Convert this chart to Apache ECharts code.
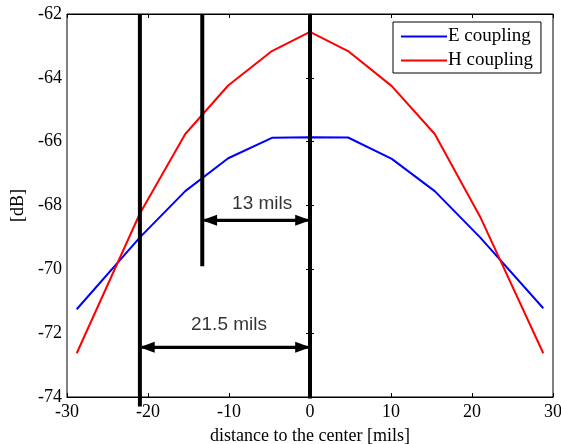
<!DOCTYPE html>
<html>
<head>
<meta charset="utf-8">
<script src="https://cdn.jsdelivr.net/npm/echarts@6/dist/echarts.min.js"></script>
<style>html,body{margin:0;padding:0;background:#fff;}#c{width:561px;height:444px;}</style>
</head>
<body>
<div id="c"></div>
<script>
var xs = [-28.8, -21, -15.4, -10.1, -4.7, 0, 4.7, 10.1, 15.4, 21, 28.8];
var eCoupling = [-71.25, -69.0, -67.55, -66.52, -65.88, -65.86, -65.87, -66.54, -67.55, -69.0, -71.22];
var hCoupling = [-72.63, -68.25, -65.76, -64.24, -63.16, -62.56, -63.16, -64.26, -65.76, -68.35, -72.63];
var xTicks = [-30, -20, -10, 0, 10, 20, 30];
var yTicks = [-74, -72, -70, -68, -66, -64, -62];
var markerXs = [-21, -13.3, 0];
var markerEnds = [-74.3, -69.9, -74.05];
var arrow13 = { from: -13.3, to: 0, y: -68.46, label: '13 mils', labelX: -5.9, labelY: -67.95 };
var arrow215 = { from: -21, to: 0, y: -72.44, label: '21.5 mils', labelX: -10.0, labelY: -71.73 };

var serif = '"Liberation Serif","Times New Roman",serif';
var sans = '"Liberation Sans",Arial,sans-serif';

function zip(a, b) { return a.map(function (v, i) { return [v, b[i]]; }); }

var series = [
  { name: 'E coupling', type: 'line', data: zip(xs, eCoupling), symbol: 'none', lineStyle: { color: '#0000ff', width: 2 }, itemStyle: { color: '#0000ff' }, z: 3 },
  { name: 'H coupling', type: 'line', data: zip(xs, hCoupling), symbol: 'none', lineStyle: { color: '#ff0000', width: 2 }, itemStyle: { color: '#ff0000' }, z: 3 }
];
markerXs.forEach(function (mx, i) {
  series.push({ type: 'line', data: [[mx, -62], [mx, markerEnds[i]]], symbol: 'none', lineStyle: { color: '#000', width: 4 }, z: 4, clip: false, silent: true });
});
[arrow13, arrow215].forEach(function (a) {
  series.push({
    type: 'line', data: [[a.from + 0.25, a.y], [a.to - 0.25, a.y]], symbol: 'none', lineStyle: { color: '#000', width: 3 }, z: 5, silent: true,
    markLine: {
      silent: true, animation: false,
      symbol: ['triangle', 'triangle'], symbolSize: [11, 15],
      lineStyle: { color: '#000', width: 3, type: 'solid' },
      label: { show: false },
      data: [[{ coord: [a.from + 0.9, a.y] }, { coord: [a.to - 0.9, a.y] }]]
    }
  });
  series.push({
    type: 'scatter', data: [[a.labelX, a.labelY]], symbolSize: 0, silent: true, z: 6,
    label: { show: true, position: 'inside', formatter: a.label, color: '#000', fontFamily: sans, fontSize: 19 }
  });
});

var chart = echarts.init(document.getElementById('c'));
chart.setOption({
  animation: false,
  backgroundColor: '#fff',
  grid: { left: 67, right: 8, top: 14, bottom: 47, show: true, borderColor: '#000', borderWidth: 1, outerBoundsMode: 'none', containLabel: false },
  legend: {
    data: ['E coupling', 'H coupling'], orient: 'vertical', left: 393, top: 22,
    borderColor: '#000', borderWidth: 1, borderRadius: 0, padding: [5, 8, 3, 7],
    backgroundColor: '#fff', itemWidth: 46, itemHeight: 20, itemGap: 5,
    itemStyle: { opacity: 0 },
    textStyle: { fontFamily: serif, fontSize: 19, color: '#000', padding: [0, 0, 0, -4] }
  },
  xAxis: [
    { type: 'value', min: -30, max: 30, interval: 10, position: 'bottom',
      name: 'distance to the center [mils]', nameLocation: 'middle', nameGap: 30,
      nameTextStyle: { fontFamily: serif, fontSize: 18, color: '#000' },
      axisLine: { lineStyle: { color: '#000' } }, axisTick: { inside: true, length: 4, lineStyle: { color: '#000' } },
      axisLabel: { margin: 6, fontFamily: serif, fontSize: 18, color: '#000', formatter: function (v) { return xTicks.indexOf(v) >= 0 ? String(v) : ''; } },
      splitLine: { show: false } },
    { type: 'value', min: -30, max: 30, interval: 10, position: 'top',
      axisLine: { lineStyle: { color: '#000' } }, axisTick: { inside: true, length: 4, lineStyle: { color: '#000' } },
      axisLabel: { show: false }, splitLine: { show: false } }
  ],
  yAxis: [
    { type: 'value', min: -74, max: -62, interval: 2, position: 'left',
      name: '[dB]', nameLocation: 'middle', nameGap: 36, nameRotate: 90,
      nameTextStyle: { fontFamily: serif, fontSize: 18, color: '#000' },
      axisLine: { show: true, lineStyle: { color: '#000' } }, axisTick: { show: true, inside: true, length: 4, lineStyle: { color: '#000' } },
      axisLabel: { margin: 5, fontFamily: serif, fontSize: 18, color: '#000', formatter: function (v) { return yTicks.indexOf(v) >= 0 ? String(v) : ''; } },
      splitLine: { show: false } },
    { type: 'value', min: -74, max: -62, interval: 2, position: 'right',
      axisLine: { show: true, lineStyle: { color: '#000' } }, axisTick: { show: true, inside: true, length: 4, lineStyle: { color: '#000' } },
      axisLabel: { show: false }, splitLine: { show: false } }
  ],
  series: series
});
</script>
</body>
</html>
